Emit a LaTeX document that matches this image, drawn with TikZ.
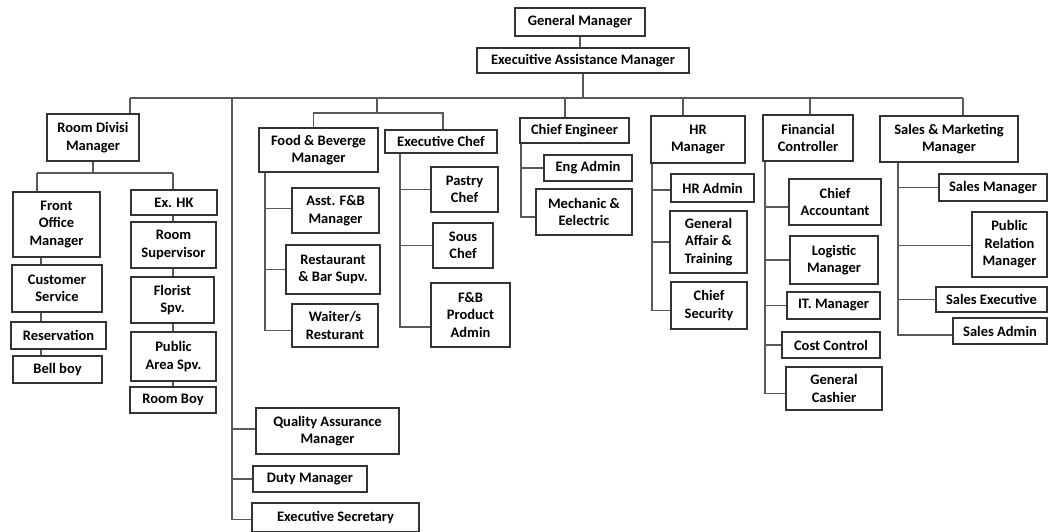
\documentclass[tikz,border=0pt]{standalone}
\usepackage{fontspec}
\setmainfont{Carlito}
\usetikzlibrary{backgrounds}
\begin{document}
\begin{tikzpicture}[x=1pt,y=-1pt,
  box/.style={draw=black!80,line width=1.2pt,fill=white,inner sep=0pt,outer sep=0pt,align=center,
    font=\bfseries\fontsize{14.5}{17.5}\selectfont,text=black},
  conn/.style={draw=black!65,line width=1.4pt}]
\useasboundingbox (0,0) rectangle (1048,531);
\clip (0,0) rectangle (1048,531);
\newcommand\bx[6]{\node[box,minimum width={#4-#2},minimum height={#5-#3}] (#1) at ({(#2+#4)/2},{(#3+#5)/2}) {#6};}
% boxes
\bx{gm}{515}{8}{645}{36}{General Manager}
\bx{eam}{477}{48}{689}{73}{Execuitive Assistance Manager}
\bx{rdm}{47}{114}{139}{161}{Room Divisi\\Manager}
\bx{fom}{13}{192}{100}{257}{Front\\Office\\Manager}
\bx{cs}{12}{265}{102}{312}{Customer\\Service}
\bx{res}{11}{322}{106}{349}{Reservation}
\bx{bell}{13}{356}{102}{383}{Bell boy}
\bx{exhk}{131}{190}{217}{215}{Ex. HK}
\bx{rsup}{131}{222}{216}{268}{Room\\Supervisor}
\bx{flor}{131}{277}{214}{323}{Florist\\Spv.}
\bx{pub}{131}{332}{216}{381}{Public\\Area Spv.}
\bx{rboy}{130}{387}{216}{413}{Room Boy}
\bx{qa}{256}{408}{399}{454}{Quality Assurance\\Manager}
\bx{duty}{253}{466}{367}{492}{Duty Manager}
\bx{esec}{252}{503}{419}{532}{Executive Secretary}
\bx{fbm}{259}{128}{378}{172}{Food \& Beverge\\Manager}
\bx{ec}{385}{130}{497}{153}{Executive Chef}
\bx{afb}{292}{188}{379}{233}{Asst. F\&B\\Manager}
\bx{rbs}{286}{245}{380}{294}{Restaurant\\\& Bar Supv.}
\bx{wr}{292}{304}{378}{347}{Waiter/s\\Resturant}
\bx{pc}{431}{167}{498}{212}{Pastry\\Chef}
\bx{sc}{433}{223}{493}{268}{Sous\\Chef}
\bx{fbpa}{431}{283}{510}{347}{F\&B\\Product\\Admin}
\bx{ce}{520}{118}{629}{143}{Chief Engineer}
\bx{ea}{544}{155}{632}{181}{Eng Admin}
\bx{me}{536}{189}{632}{235}{Mechanic \&\\Eelectric}
\bx{hrm}{651}{116}{745}{163}{HR\\Manager}
\bx{hra}{671}{174}{754}{202}{HR Admin}
\bx{gat}{670}{211}{747}{273}{General\\Affair \&\\Training}
\bx{chs}{671}{282}{747}{329}{Chief\\Security}
\bx{fc}{763}{115}{853}{161}{Financial\\Controller}
\bx{ca}{789}{179}{881}{225}{Chief\\Accountant}
\bx{lm}{790}{236}{878}{284}{Logistic\\Manager}
\bx{itm}{787}{292}{880}{319}{IT. Manager}
\bx{cc}{782}{332}{880}{358}{Cost Control}
\bx{gc}{786}{367}{882}{410}{General\\Cashier}
\bx{smm}{880}{116}{1018}{162}{Sales \& Marketing\\Manager}
\bx{sm}{939}{174}{1047}{201}{Sales Manager}
\bx{prm}{972}{212}{1047}{277}{Public\\Relation\\Manager}
\bx{se}{936}{287}{1047}{312}{Sales Executive}
\bx{sa}{953}{318}{1047}{344}{Sales Admin}
% junction coordinates
\coordinate (busL) at (130,98);
\coordinate (busR) at (963,98);
\coordinate (lv) at (232,98);
\coordinate (fbj) at (377,98);
\coordinate (fbbus) at (377,113);
\coordinate (rdl) at (37,173);
\coordinate (rdr) at (173,173);
\coordinate (fx) at (41,0);
\coordinate (fbv) at (265,172);
\coordinate (ecv) at (400,153);
\coordinate (cev) at (521,143);
\coordinate (hrv) at (652,163);
\coordinate (fcv) at (765,161);
\coordinate (smv) at (898,162);
\coordinate (ceb) at (565,98);
\coordinate (hrb) at (683,98);
\coordinate (fcb) at (810,98);
\coordinate (esecw) at ([yshift=-2]esec.west);
\coordinate (qaw) at ([yshift=2]qa.west);
\coordinate (fbmn) at ([xshift=-5]fbm.north);
\coordinate (ecn) at ([xshift=2]ec.north);
\coordinate (wrw) at ([yshift=-5]wr.west);
\coordinate (afbw) at ([yshift=2]afb.west);
\coordinate (fbpaw) at ([yshift=-12]fbpa.west);
\coordinate (mew) at ([yshift=-5]me.west);
\coordinate (chsw) at ([yshift=-5]chs.west);
\coordinate (hraw) at ([yshift=-2]hra.west);
\coordinate (gcw) at ([yshift=-5]gc.west);
\coordinate (caw) at ([yshift=-5]ca.west);
\coordinate (saw) at ([yshift=-4]sa.west);
\coordinate (prmw) at ([yshift=-1]prm.west);
\begin{scope}[on background layer]
% top
\draw[conn] (gm.south) -- (gm.south |- eam.north);
\draw[conn] (eam.south) -- (eam.south |- busL);
\draw[conn] (busL) -- (busR);
% room division
\draw[conn] (busL) -- (busL |- rdm.north);
\draw[conn] (rdm.south) -- (rdm.south |- rdl);
\draw[conn] (rdl) -- (rdr);
\draw[conn] (rdl) -- (rdl |- fom.north);
\draw[conn] (rdr) -- (rdr |- exhk.north);
\draw[conn] (fx |- fom.south) -- (fx |- cs.north);
\draw[conn] (fx |- cs.south) -- (fx |- res.north);
\draw[conn] (fx |- res.south) -- (fx |- bell.north);
\draw[conn] (rdr |- exhk.south) -- (rdr |- rsup.north);
\draw[conn] (rdr |- rsup.south) -- (rdr |- flor.north);
\draw[conn] (rdr |- flor.south) -- (rdr |- pub.north);
\draw[conn] (rdr |- pub.south) -- (rdr |- rboy.north);
% long left column
\draw[conn] (lv) |- (esecw);
\draw[conn] (lv |- qaw) -- (qaw);
\draw[conn] (lv |- duty.west) -- (duty.west);
% F&B
\draw[conn] (fbj) -- (fbbus);
\draw[conn] (fbmn) |- (fbbus) -| (ecn);
\draw[conn] (fbv) |- (wrw);
\draw[conn] (fbv |- afbw) -- (afbw);
\draw[conn] (fbv |- rbs.west) -- (rbs.west);
\draw[conn] (ecv) |- (fbpaw);
\draw[conn] (ecv |- pc.west) -- (pc.west);
\draw[conn] (ecv |- sc.west) -- (sc.west);
% engineering
\draw[conn] (ceb) -- (ceb |- ce.north);
\draw[conn] (cev) |- (mew);
\draw[conn] (cev |- ea.west) -- (ea.west);
% HR
\draw[conn] (hrb) -- (hrb |- hrm.north);
\draw[conn] (hrv) |- (chsw);
\draw[conn] (hrv |- hraw) -- (hraw);
\draw[conn] (hrv |- gat.west) -- (gat.west);
% finance
\draw[conn] (fcb) -- (fcb |- fc.north);
\draw[conn] (fcv) |- (gcw);
\draw[conn] (fcv |- caw) -- (caw);
\draw[conn] (fcv |- lm.west) -- (lm.west);
\draw[conn] (fcv |- itm.west) -- (itm.west);
\draw[conn] (fcv |- cc.west) -- (cc.west);
% sales
\draw[conn] (busR) -- (busR |- smm.north);
\draw[conn] (smv) |- (saw);
\draw[conn] (smv |- sm.west) -- (sm.west);
\draw[conn] (smv |- prmw) -- (prmw);
\draw[conn] (smv |- se.west) -- (se.west);
\end{scope}
\end{tikzpicture}
\end{document}
